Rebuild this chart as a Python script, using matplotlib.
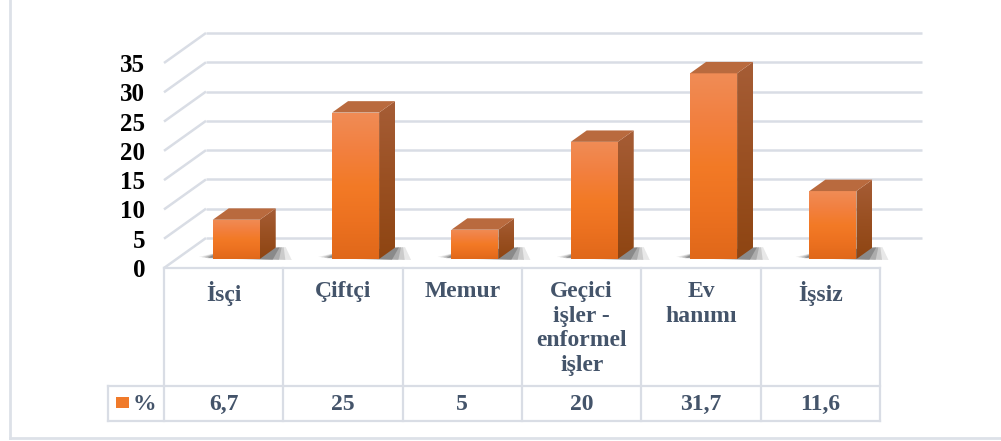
import matplotlib
matplotlib.use("Agg")
import matplotlib.pyplot as plt
import numpy as np
from matplotlib.patches import Rectangle, Polygon
from matplotlib.lines import Line2D
from matplotlib import transforms
from matplotlib.colors import LinearSegmentedColormap

# ---- data ----
categories = ["İsçi", "Çiftçi", "Memur", "Geçici\nişler -\nenformel\nişler", "Ev\nhanımı", "İşsiz"]
values = [6.7, 25, 5, 20, 31.7, 11.6]
value_labels = ["6,7", "25", "5", "20", "31,7", "11,6"]
series_name = "%"
y_ticks = [0, 5, 10, 15, 20, 25, 30, 35]
y_max = 40

# ---- layout ----
W, H = 1001, 441
fig = plt.figure(figsize=(W / 100, H / 100), dpi=100)


def fx(px):
    return px / W


def fy(py):
    return 1 - py / H


SERIF = "Liberation Serif"
TXT = "#44546A"
GRID = "#D9DDE5"

ax_l, ax_r, ax_b, ax_t = 164, 880, 268, 33.7
ax = fig.add_axes([fx(ax_l), fy(ax_b), (ax_r - ax_l) / W, (ax_b - ax_t) / H])
n = len(categories)
ux = (ax_r - ax_l) / n          # px per category
uy = (ax_b - ax_t) / y_max      # px per value unit

DX = 42 / ux                    # floor depth in data units
DY = 30 / uy
bar_w = 47 / ux
bar_front = 0.3                 # depth fraction of bar front face
bar_depth = 0.38                # depth fraction of bar thickness
bdx, bdy = bar_depth * DX, bar_depth * DY
fdx, fdy = bar_front * DX, bar_front * DY

# ---- walls / grid ----
for t in y_ticks:
    ax.plot([-0.5, -0.5 + DX], [t, t + DY], color=GRID, lw=1.8, zorder=1,
            clip_on=False, solid_capstyle="butt")
    ax.plot([-0.5 + DX, n - 0.5 + DX], [t + DY, t + DY], color=GRID, lw=1.8,
            zorder=1, clip_on=False, solid_capstyle="butt")

front_cmap = LinearSegmentedColormap.from_list(
    "front", ["#F08C56", "#F28040", "#F37A26", "#EC7120", "#E0681A"])
side_cmap = LinearSegmentedColormap.from_list(
    "side", ["#A65D36", "#9A5022", "#8E4512"])
grad = np.linspace(0, 1, 256)[:, None]

px_x, px_y = 1 / ux, 1 / uy
for i, v in enumerate(values):
    x0 = i - bar_w / 2 + fdx
    b0 = fdy
    # soft shadow on the floor
    for k, a in zip([1.0, 0.8, 0.6, 0.4], [0.10, 0.14, 0.18, 0.24]):
        shadow = Polygon([
            (x0 - 14 * k * px_x, b0 + 2 * k * px_y),
            (x0 + bar_w + 32 * k * px_x, b0 - 1 * px_y),
            (x0 + bar_w + bdx + 10 * k * px_x, b0 + bdy + 0.5 * px_y),
            (x0 + 6 * px_x, b0 + bdy * 0.6),
        ], closed=True, facecolor="#202020", edgecolor="none", alpha=a,
            zorder=2, clip_on=False)
        ax.add_patch(shadow)
    # front face
    rect = Rectangle((x0, b0), bar_w, v, facecolor="none", edgecolor="none",
                     zorder=3, clip_on=False)
    ax.add_patch(rect)
    im = ax.imshow(grad, extent=[x0, x0 + bar_w, b0, b0 + v], aspect="auto",
                   cmap=front_cmap, origin="upper", zorder=3,
                   interpolation="bilinear")
    im.set_clip_path(rect)
    # side face
    side = Polygon([(x0 + bar_w, b0), (x0 + bar_w + bdx, b0 + bdy),
                    (x0 + bar_w + bdx, b0 + v + bdy), (x0 + bar_w, b0 + v)],
                   closed=True, facecolor="none", edgecolor="none", zorder=3,
                   clip_on=False)
    ax.add_patch(side)
    ims = ax.imshow(grad, extent=[x0 + bar_w, x0 + bar_w + bdx, b0, b0 + v + bdy],
                    aspect="auto", cmap=side_cmap, origin="upper", zorder=3,
                    interpolation="bilinear")
    ims.set_clip_path(side)
    # top face
    top = Polygon([(x0, b0 + v), (x0 + bdx, b0 + v + bdy),
                   (x0 + bar_w + bdx, b0 + v + bdy), (x0 + bar_w, b0 + v)],
                  closed=True, facecolor="#B96A3E", edgecolor="none", zorder=4,
                  clip_on=False)
    ax.add_patch(top)

ax.set_xlim(-0.5, n - 0.5)
ax.set_ylim(0, y_max)
ax.set_xticks([])
ax.set_yticks(y_ticks)
ax.set_yticklabels([str(t) for t in y_ticks], fontsize=18, fontweight="bold",
                   family=SERIF, color="black")
ax.tick_params(axis="y", length=0, pad=13.5)
for s in ax.spines.values():
    s.set_visible(False)
ax.patch.set_alpha(0)

# ---- data table ----
trans = transforms.blended_transform_factory(ax.transData, fig.transFigure)
tbl_top, tbl_mid, tbl_bot = 268, 386, 421
for k in range(n + 1):
    ax.add_line(Line2D([k - 0.5, k - 0.5], [fy(tbl_top), fy(tbl_bot)],
                       transform=trans, color=GRID, lw=1.6, clip_on=False))
ax.add_line(Line2D([-0.5, n - 0.5], [fy(tbl_top), fy(tbl_top)], transform=trans,
                   color=GRID, lw=1.6, clip_on=False))
for yy in (tbl_mid, tbl_bot):
    fig.add_artist(Line2D([fx(108), fx(ax_r)], [fy(yy), fy(yy)], color=GRID, lw=1.6))
fig.add_artist(Line2D([fx(108), fx(108)], [fy(tbl_mid), fy(tbl_bot)], color=GRID, lw=1.6))

for i, cat in enumerate(categories):
    ax.text(i, fy(281), cat, transform=trans, ha="center", va="top",
            fontsize=17, fontweight="bold", family=SERIF, color=TXT,
            linespacing=1.22, clip_on=False)
    ax.text(i, fy(404), value_labels[i], transform=trans, ha="center",
            va="center", fontsize=17, fontweight="bold", family=SERIF,
            color=TXT, clip_on=False)

fig.add_artist(Rectangle((fx(116), fy(408)), 13 / W, 11 / H,
                         facecolor="#F07A2A", edgecolor="none"))
fig.text(fx(133), fy(404), series_name, ha="left", va="center", fontsize=17,
         fontweight="bold", family=SERIF, color=TXT)

# ---- outer frame ----
fig.add_artist(Line2D([fx(10), fx(10)], [fy(0), fy(438)], color="#DDE1E8", lw=2))
fig.add_artist(Line2D([fx(10), fx(1001)], [fy(438), fy(438)], color="#DDE1E8", lw=2))

fig.savefig("out.png", dpi=100)
